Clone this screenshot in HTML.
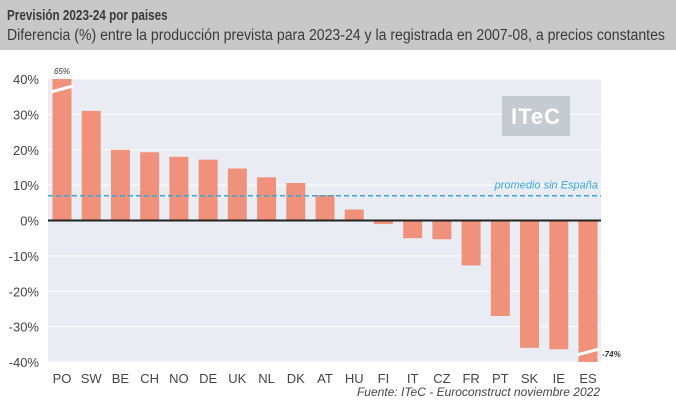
<!DOCTYPE html>
<html><head><meta charset="utf-8">
<style>
body{margin:0;width:676px;height:408px;background:#fff;font-family:"Liberation Sans",sans-serif;overflow:hidden}
#hdr{position:absolute;left:0;top:0;width:676px;height:50px;background:#c8c8c8}
#t1{position:absolute;left:7px;top:7px;font-size:15px;font-weight:bold;color:#3a3a3a;transform:scaleX(0.78);transform-origin:left top;white-space:nowrap}
#t2{position:absolute;left:7px;top:27px;font-size:15.5px;color:#3a3a3a;transform:scaleX(0.908);transform-origin:left top;white-space:nowrap}
</style></head><body>
<div id="hdr">
<div id="t1">Previsión 2023-24 por paises</div>
<div id="t2">Diferencia (%) entre la producción prevista para 2023-24 y la registrada en 2007-08, a precios constantes</div>
</div>
<svg id="c" width="676" height="408" style="position:absolute;left:0;top:0"></svg>
<script>
const categories=["PO","SW","BE","CH","NO","DE","UK","NL","DK","AT","HU","FI","IT","CZ","FR","PT","SK","IE","ES"];
const values=[65,31,20,19.3,18,17.2,14.7,12.2,10.6,7.2,3.1,-1,-5,-5.3,-12.7,-27,-36,-36.4,-74];
const tickValues=[40,30,20,10,0,-10,-20,-30,-40];
const tickLabels=["40%","30%","20%","10%","0%","-10%","-20%","-30%","-40%"];
const average=[7];
const NS="http://www.w3.org/2000/svg";
const svg=document.getElementById('c');
const L=48,R=601,T=79,B=362,ymax=40,ymin=-40;
function y(v){return T+(ymax-v)/(ymax-ymin)*(B-T);}
const step=(588-62)/(categories.length-1);
function x(i){return 62+i*step;}
function mk(tag,a,txt){const e=document.createElementNS(NS,tag);for(const k in a)e.setAttribute(k,a[k]);if(txt!==undefined)e.textContent=txt;svg.appendChild(e);return e;}
let e=mk('rect',{x:L,y:T,width:R-L,height:B-T,fill:'#e9edf3'});


tickValues.forEach((v,i)=>{
 let g=mk('line',{x1:L,x2:R,y1:y(v),y2:y(v),stroke:'#fff','stroke-width':1});
 
 
 let t=mk('text',{x:39,y:y(v)+5,'text-anchor':'end','font-size':13,fill:'#444'},tickLabels[i]);
 
 
});
let lg=mk('rect',{x:502,y:96,width:68,height:40,fill:'#c6cad1'});


let lt=mk('text',{x:536,y:124,'text-anchor':'middle','font-size':22,'font-weight':'bold',fill:'#fff','letter-spacing':'1'},'ITeC');


categories.forEach((c,i)=>{
 const v=Math.max(ymin,Math.min(ymax,values[i]));
 const y0=y(0),y1=y(v);
 let b=mk('rect',{x:x(i)-9.5,y:Math.min(y0,y1),width:19,height:Math.abs(y1-y0),fill:'#f0917c'});
 
 
 if(values[i]>ymax||values[i]<ymin){
  const yb=values[i]>0?y(ymax)+10:y(ymin)-10;
  let br=mk('line',{x1:x(i)-11,x2:x(i)+11,y1:yb+3,y2:yb-3,stroke:'#fff','stroke-width':3});
  
  
  let lbl=values[i]>0?mk('text',{x:x(i),y:T-5,'text-anchor':'middle','font-size':8,'font-style':'italic',fill:'#333'},values[i]+'%')
   :mk('text',{x:x(i)+14,y:B-5,'font-size':8,'font-style':'italic','font-weight':'bold',fill:'#333'},values[i]+'%');
  
  
 }
 let t=mk('text',{x:x(i),y:383,'text-anchor':'middle','font-size':13,fill:'#444'},c);
 
 
});
let z=mk('line',{x1:L,x2:R,y1:y(0),y2:y(0),stroke:'#222','stroke-width':2});


let av=mk('line',{x1:L,x2:R,y1:y(average[0]),y2:y(average[0]),stroke:'#3aa6d8','stroke-width':1.5,'stroke-dasharray':'5,3'});


let at=mk('text',{x:598,y:y(average[0])-7,'text-anchor':'end','font-size':11,'font-style':'italic',fill:'#3aa6d8'},'promedio sin España');


let src=mk('text',{x:600,y:396,'text-anchor':'end','font-size':12,'font-style':'italic',fill:'#444'},'Fuente: ITeC - Euroconstruct noviembre 2022');


</script>
</body></html>
